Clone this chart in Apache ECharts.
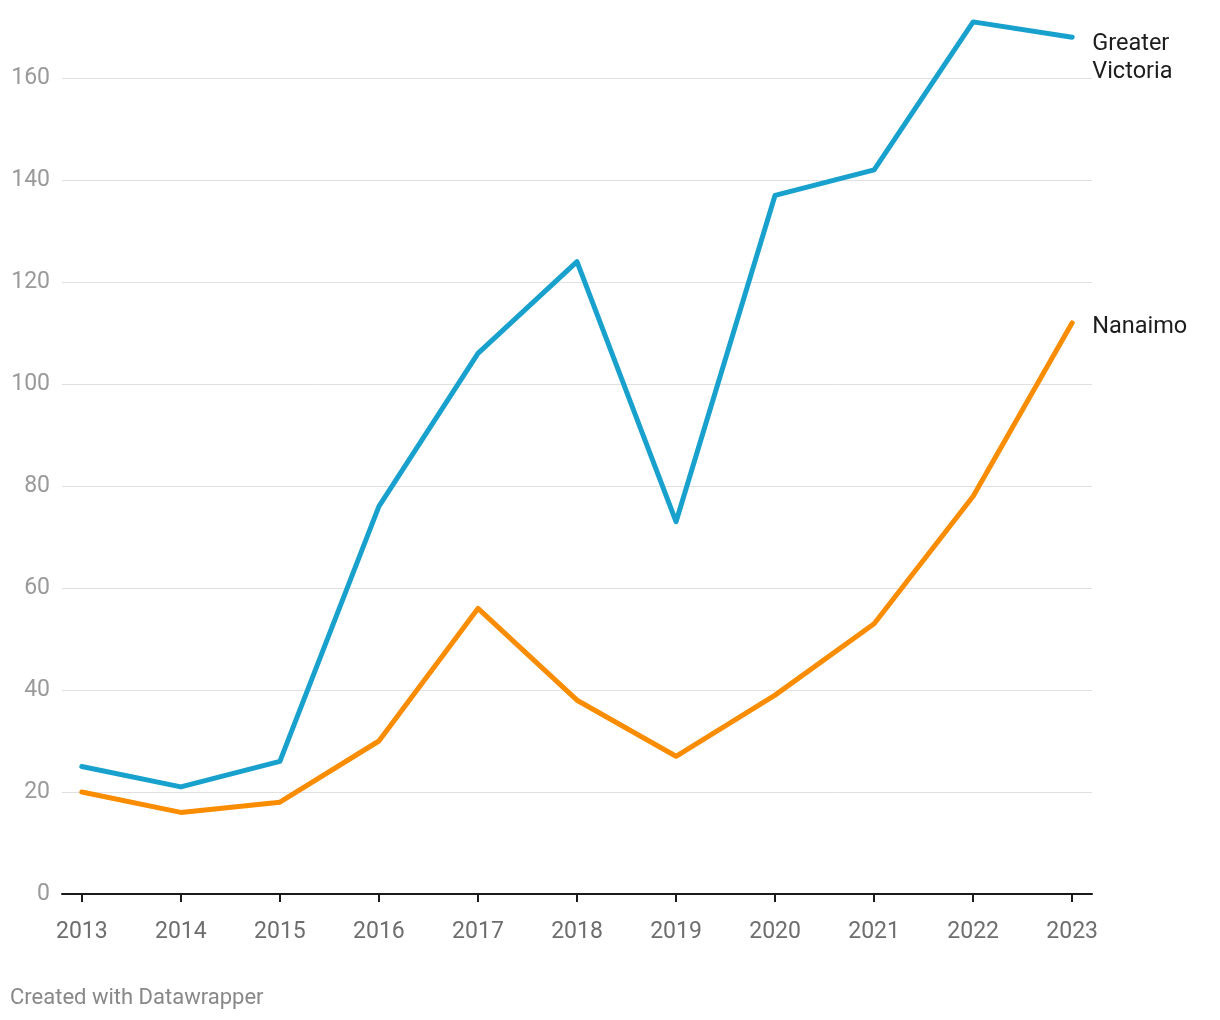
<!DOCTYPE html>
<html>
<head>
<meta charset="utf-8">
<script src="https://cdn.jsdelivr.net/npm/echarts@6/dist/echarts.min.js"></script>
<style>
html,body{margin:0;padding:0;background:#fff;}
#c{width:1220px;height:1020px;}
</style>
</head>
<body>
<div id="c"></div>
<script>
const years = [2013,2014,2015,2016,2017,2018,2019,2020,2021,2022,2023];
const greaterVictoria = [25,21,26,76,106,124,73,137,142,171,168];
const nanaimo = [20,16,18,30,56,38,27,39,53,78,112];
const yTicks = [0,20,40,60,80,100,120,140,160];

const chart = echarts.init(document.getElementById('c'));
const font = 'Roboto, "Noto Sans", sans-serif';
chart.setOption({
  animation: false,
  backgroundColor: '#fff',
  grid: {left: 62, right: 128, top: 78, bottom: 126},
  xAxis: {
    type: 'value', min: 2012.8, max: 2023.2,
    splitLine: {show: false},
    axisLine: {show: true, onZero: false, lineStyle: {color: '#1a1a1a', width: 2}},
    axisTick: {show: true, customValues: years, length: 8, lineStyle: {color: '#1a1a1a', width: 2}},
    axisLabel: {customValues: years, color: '#6e6e6e', fontSize: 23, fontFamily: font, margin: 27, formatter: v => String(v)}
  },
  yAxis: {
    type: 'value', min: 0, max: 160, interval: 20,
    axisLine: {show: false}, axisTick: {show: false},
    splitLine: {lineStyle: {color: '#e0e0e0', width: 1}},
    axisLabel: {color: '#9a9a9a', fontSize: 23, fontFamily: font, margin: 12, padding: [2, 0, 0, 0]}
  },
  series: [
    {
      name: 'Greater Victoria', type: 'line', clip: false, symbol: 'none',
      data: years.map((y,i)=>[y, greaterVictoria[i]]),
      lineStyle: {color: '#18a1cd', width: 5, cap: 'round', join: 'round'},
      itemStyle: {color: '#18a1cd'},
      endLabel: {show: true, formatter: 'Greater\nVictoria', color: '#1d1d1d', fontSize: 23.5, fontFamily: font, lineHeight: 28, distance: 20, offset: [0, 21], align: 'left', verticalAlign: 'middle'}
    },
    {
      name: 'Nanaimo', type: 'line', clip: false, symbol: 'none',
      data: years.map((y,i)=>[y, nanaimo[i]]),
      lineStyle: {color: '#fa8c00', width: 5, cap: 'round', join: 'round'},
      itemStyle: {color: '#fa8c00'},
      endLabel: {show: true, formatter: 'Nanaimo', color: '#1d1d1d', fontSize: 23.5, fontFamily: font, distance: 20, offset: [0, 4], align: 'left', verticalAlign: 'middle'}
    }
  ],
  graphic: [{
    type: 'text', left: 10, top: 987,
    style: {text: 'Created with Datawrapper', fill: '#888888', fontSize: 22, fontFamily: font}
  }]
});
</script>
</body>
</html>
